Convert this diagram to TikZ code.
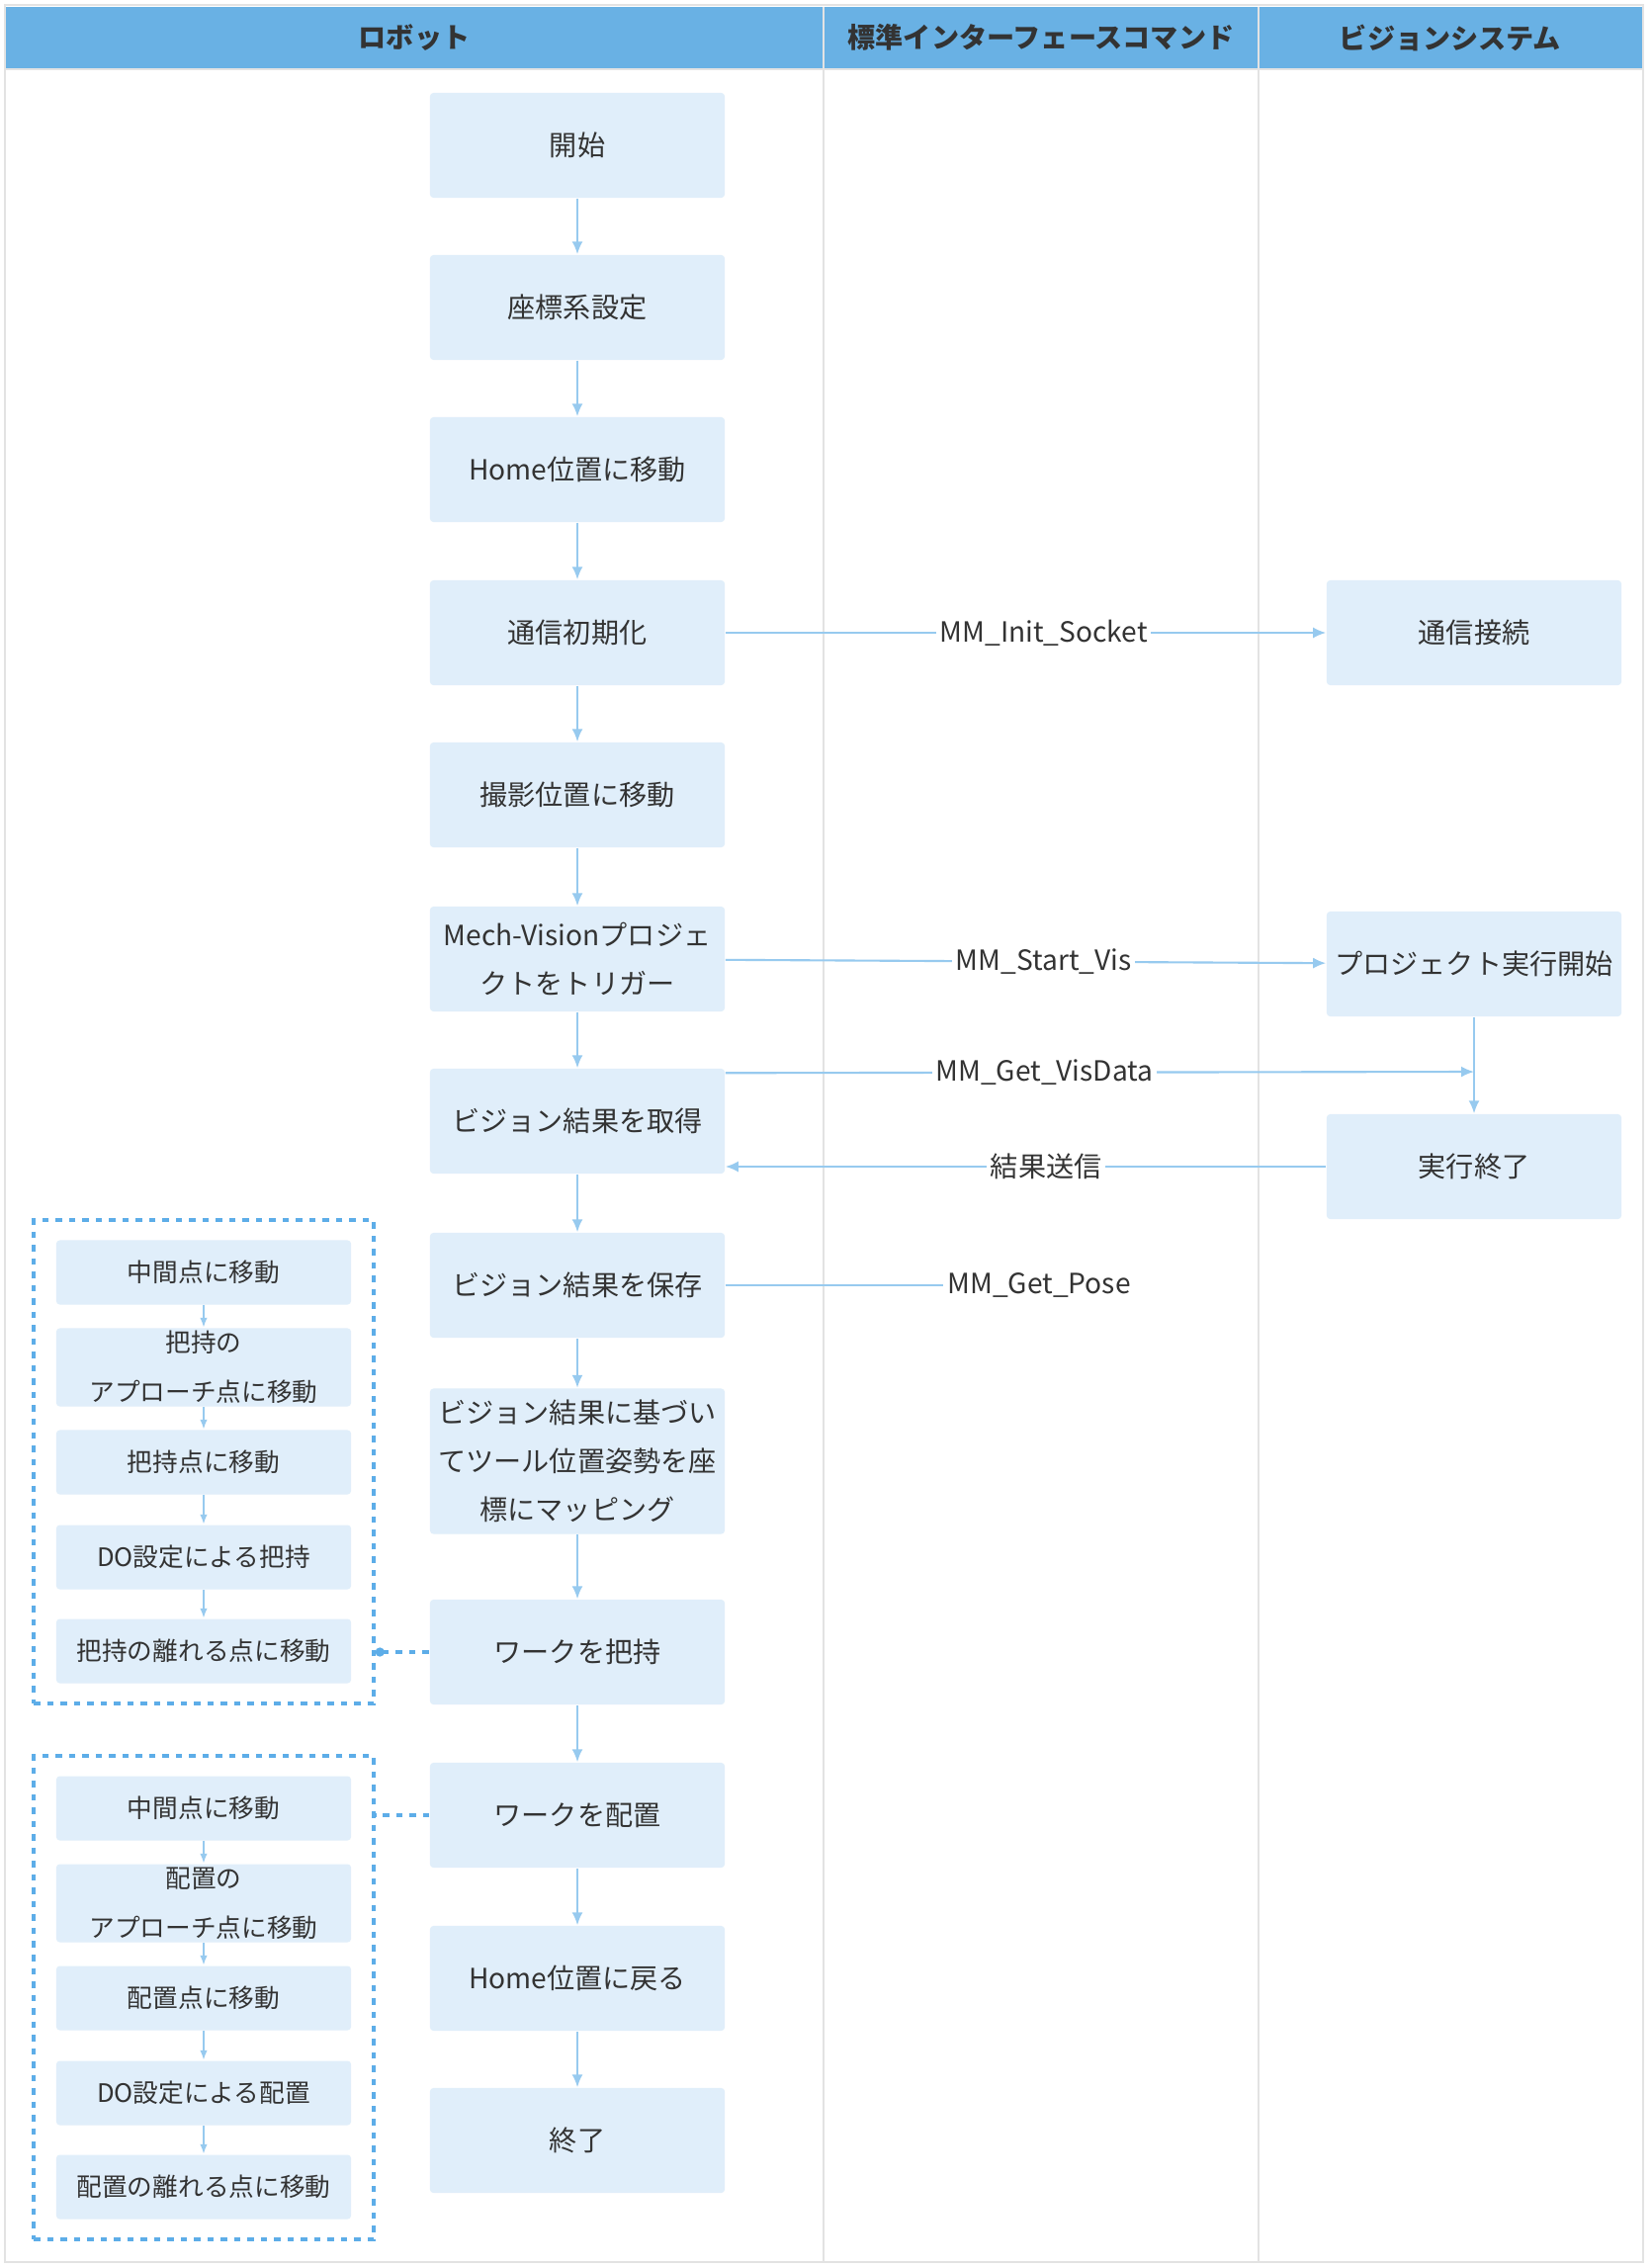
\documentclass[tikz,border=0pt]{standalone}
\usepackage{fontspec}
\newfontfamily\jpfont{Noto Sans CJK JP}
\usetikzlibrary{positioning,arrows.meta,fit,calc,backgrounds}
\definecolor{headblue}{HTML}{69B1E4}
\definecolor{boxblue}{HTML}{E0EEFA}
\definecolor{arrowblue}{HTML}{97CAEF}
\definecolor{dashblue}{HTML}{5DADE8}
\definecolor{gridgray}{HTML}{E3E3E3}
\definecolor{textgray}{HTML}{333333}
\tikzset{
    % Main step boxes
    stepbox/.style={
        fill=boxblue,
        rounded corners=1pt,
        minimum width=2.98cm,
        minimum height=1.06cm,
        inner sep=0pt,
        align=center,
        text=textgray,
        font=\jpfont\fontsize{8}{13.9}\selectfont
    },
    % Smaller boxes inside the dashed groups
    substep/.style={
        stepbox,
        minimum height=0.65cm,
        font=\jpfont\fontsize{7.3}{14.2}\selectfont
    },
    % Lane title
    lanehead/.style={
        font=\jpfont\bfseries\fontsize{8}{10}\selectfont,
        text=textgray
    },
    % Command label on connectors
    cmdlabel/.style={
        fill=white,
        inner sep=1pt,
        text=textgray,
        font=\jpfont\fontsize{8}{10}\selectfont
    },
    % Dashed group frame
    groupframe/.style={
        draw=dashblue,
        line width=1.1pt,
        dash pattern=on 0.065cm off 0.07cm,
        inner xsep=0.22cm,
        inner ysep=0.2cm
    },
    % Standard arrows
    flowarrow/.style={
        -{Latex[length=1.3mm,width=1.1mm]},
        line width=0.6pt,
        arrowblue
    },
    % Arrows inside the groups
    subarrow/.style={
        -{Latex[length=1mm,width=0.75mm]},
        line width=0.5pt,
        arrowblue
    },
    % Plain connector without tip
    plainlink/.style={
        line width=0.6pt,
        arrowblue
    },
    % Dashed link to a group
    grouplink/.style={
        dashblue,
        line width=1.1pt,
        dash pattern=on 0.065cm off 0.07cm
    }
}

\begin{document}
\begin{tikzpicture}[x=0.01cm, y=-0.01cm]

\useasboundingbox (0,0) rectangle (1671,2294);
\fill[white] (0,0) rectangle (1671,2294);

% ==================== LANES ====================
\fill[headblue] (5,7) rectangle (1661,69);
\draw[gridgray, line width=0.8pt] (5,5) rectangle (1662,2288);
\draw[gridgray, line width=0.8pt] (5,70) -- (1662,70);
\draw[gridgray, line width=0.6pt] (833,7) -- (833,2288);
\draw[gridgray, line width=0.6pt] (1273,7) -- (1273,2288);

\node[lanehead] (robotlane) at (419,38) {ロボット};
\node[lanehead] (cmdlane) at (1053,38) {標準インターフェースコマンド};
\node[lanehead] (visionlane) at (1467,38) {ビジョンシステム};

% ==================== ROBOT FLOW ====================
\node[stepbox] (start) at (584,147) {開始};
\node[stepbox] (coordset) at (584,311) {座標系設定};
\node[stepbox] (homemove) at (584,475) {Home位置に移動};
\node[stepbox] (comminit) at (584,640) {通信初期化};
\node[stepbox] (shootpos) at (584,804) {撮影位置に移動};
\node[stepbox] (trigger) at (584,970) {Mech-Visionプロジェ\\クトをトリガー};
\node[stepbox] (getres) at (584,1134) {ビジョン結果を取得};
\node[stepbox] (saveres) at (584,1300) {ビジョン結果を保存};
\node[stepbox, minimum height=1.47cm] (mapping) at (584,1478)
    {ビジョン結果に基づい\\てツール位置姿勢を座\\標にマッピング};
\node[stepbox] (pick) at (584,1671) {ワークを把持};
\node[stepbox] (place) at (584,1836) {ワークを配置};
\node[stepbox] (homeback) at (584,2001) {Home位置に戻る};
\node[stepbox] (finish) at (584,2165) {終了};

\draw[flowarrow] (start) -- (coordset);
\draw[flowarrow] (coordset) -- (homemove);
\draw[flowarrow] (homemove) -- (comminit);
\draw[flowarrow] (comminit) -- (shootpos);
\draw[flowarrow] (shootpos) -- (trigger);
\draw[flowarrow] (trigger) -- (getres);
\draw[flowarrow] (getres) -- (saveres);
\draw[flowarrow] (saveres) -- (mapping);
\draw[flowarrow] (mapping) -- (pick);
\draw[flowarrow] (pick) -- (place);
\draw[flowarrow] (place) -- (homeback);
\draw[flowarrow] (homeback) -- (finish);

% ==================== VISION SYSTEM ====================
\node[stepbox] (connect) at (1491,640) {通信接続};
\node[stepbox] (projstart) at (1491,975) {プロジェクト実行開始};
\node[stepbox] (projend) at (1491,1180) {実行終了};
\coordinate (visdata) at (1491,1084);

\draw[flowarrow] (projstart) -- (projend);

% ==================== COMMANDS ====================
\draw[flowarrow] (comminit) -- (connect)
    node[cmdlabel, pos=0.53] {MM\_Init\_Socket};
\draw[flowarrow] (trigger) -- (projstart)
    node[cmdlabel, pos=0.53] {MM\_Start\_Vis};
\draw[flowarrow] ([yshift=-0.05cm]getres.north east) -- (visdata)
    node[cmdlabel, pos=0.426] {MM\_Get\_VisData};
\draw[flowarrow] (projend.west) -- (projend.west -| getres.east)
    node[cmdlabel, pos=0.466] {結果送信};
\node[cmdlabel] (getpose) at (1051,1300) {MM\_Get\_Pose};
\draw[plainlink] (saveres.east) -- (getpose.west);

% ==================== PICK GROUP ====================
\node[substep] (pickmid) at (206,1287) {中間点に移動};
\node[substep, minimum height=0.79cm] (pickappr) at (206,1383) {把持の\\アプローチ点に移動};
\node[substep] (pickpt) at (206,1479) {把持点に移動};
\node[substep] (pickdo) at (206,1575) {DO設定による把持};
\node[substep] (pickleave) at (206,1670) {把持の離れる点に移動};

\draw[subarrow] (pickmid) -- (pickappr);
\draw[subarrow] (pickappr) -- (pickpt);
\draw[subarrow] (pickpt) -- (pickdo);
\draw[subarrow] (pickdo) -- (pickleave);

\node[groupframe, fit=(pickmid)(pickleave)] (pickgroup) {};
\draw[grouplink, {Circle[length=0.9mm]}-] (pick.west -| pickgroup.east) -- (pick.west);

% ==================== PLACE GROUP ====================
\node[substep] (placemid) at (206,1829) {中間点に移動};
\node[substep, minimum height=0.79cm] (placeappr) at (206,1925) {配置の\\アプローチ点に移動};
\node[substep] (placept) at (206,2021) {配置点に移動};
\node[substep] (placedo) at (206,2117) {DO設定による配置};
\node[substep] (placeleave) at (206,2212) {配置の離れる点に移動};

\draw[subarrow] (placemid) -- (placeappr);
\draw[subarrow] (placeappr) -- (placept);
\draw[subarrow] (placept) -- (placedo);
\draw[subarrow] (placedo) -- (placeleave);

\node[groupframe, fit=(placemid)(placeleave)] (placegroup) {};
\draw[grouplink] (place.west) -- (place.west -| placegroup.east);

\end{tikzpicture}
\end{document}
